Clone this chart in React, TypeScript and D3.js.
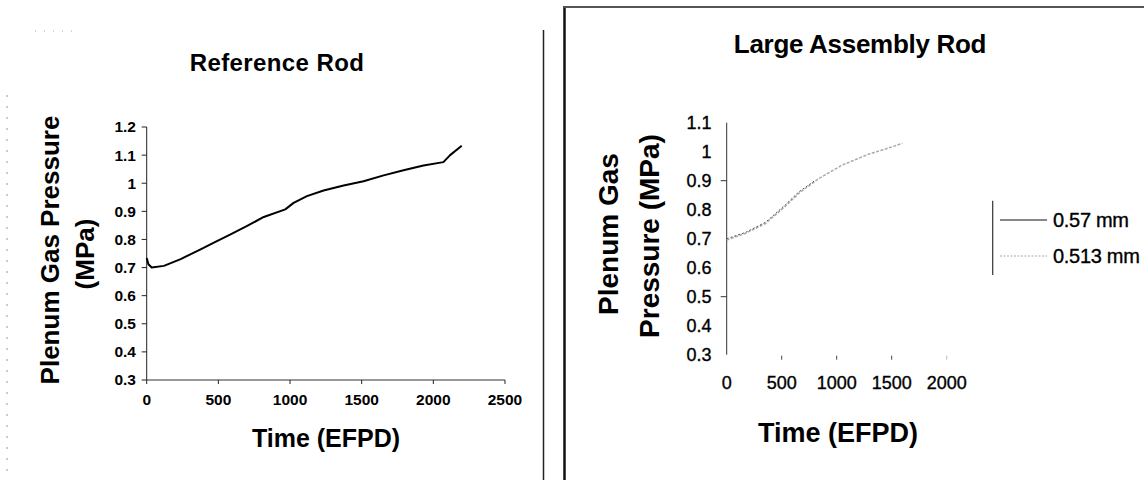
import * as d3 from 'd3';

// Reference Rod
const refTime = [0, 12, 35, 120, 237, 376, 469, 585, 701, 817, 967, 1025, 1118, 1234, 1374, 1513, 1653, 1792, 1931, 2070, 2117, 2198];
const refPressure = [0.734, 0.712, 0.7, 0.706, 0.73, 0.765, 0.789, 0.818, 0.848, 0.88, 0.907, 0.93, 0.954, 0.974, 0.992, 1.007, 1.028, 1.046, 1.063, 1.075, 1.1, 1.133];
const refYTicks = [0.3, 0.4, 0.5, 0.6, 0.7, 0.8, 0.9, 1, 1.1, 1.2];
const refXTicks = [0, 500, 1000, 1500, 2000, 2500];

// Large Assembly Rod
const time057 = [0, 173, 355, 536, 658, 800];
const pressure057 = [0.7, 0.722, 0.757, 0.818, 0.862, 0.9];
const time0513 = [0, 173, 355, 536, 658, 839, 1051, 1294, 1450, 1597];
const pressure0513 = [0.695, 0.719, 0.753, 0.813, 0.857, 0.908, 0.954, 0.992, 1.01, 1.029];
const largeYTicks = [0.3, 0.4, 0.5, 0.6, 0.7, 0.8, 0.9, 1, 1.1];
const largeYTickMarks = [0.9, 0.5];
const largeXTicks = [0, 500, 1000, 1500, 2000];
const legendLabels = ['0.57 mm', '0.513 mm'];

const font = '"Liberation Sans", Arial, sans-serif';

export default function App() {
  const xL = d3.scaleLinear().domain([0, 2500]).range([146.7, 505]);
  const yL = d3.scaleLinear().domain([0.3, 1.2]).range([380, 127]);
  const xR = d3.scaleLinear().domain([0, 2000]).range([726.7, 946.7]);
  const yR = d3.scaleLinear().domain([0.3, 1.1]).range([354.7, 122.7]);

  const refLine = d3
    .line<number>()
    .x((_, i) => xL(refTime[i]))
    .y((d) => yL(d));
  const line057 = d3
    .line<number>()
    .x((_, i) => xR(time057[i]))
    .y((d) => yR(d));
  const line0513 = d3
    .line<number>()
    .x((_, i) => xR(time0513[i]))
    .y((d) => yR(d));

  return (
    <svg
      width={1144}
      height={480}
      style={{ position: 'absolute', left: 0, top: 0, background: '#fff' }}
      fontFamily={font}
    >
      {/* scan artefacts on the left edge */}
      <line x1={7} x2={7} y1={95} y2={480} stroke="#999" strokeWidth={1} strokeDasharray="2 9" />
      <line x1={35} x2={78} y1={31} y2={31} stroke="#aaa" strokeWidth={1} strokeDasharray="1 8" />

      {/* divider and right box */}
      <line x1={543.5} x2={543.5} y1={30} y2={480} stroke="#222" strokeWidth={1.5} />
      <line x1={564.5} x2={564.5} y1={6} y2={480} stroke="#111" strokeWidth={2.5} />
      <line x1={564} x2={1144} y1={7} y2={7} stroke="#555" strokeWidth={2} />

      {/* ---- Reference Rod ---- */}
      <text x={277} y={71} textAnchor="middle" fontSize={24} fontWeight="bold" letterSpacing={0.4}>
        Reference Rod
      </text>
      <text
        transform={`translate(59,250) rotate(-90)`}
        textAnchor="middle"
        fontSize={26}
        fontWeight="bold"
      >
        Plenum Gas Pressure
      </text>
      <text
        transform={`translate(94,254) rotate(-90)`}
        textAnchor="middle"
        fontSize={26}
        fontWeight="bold"
      >
        (MPa)
      </text>
      <line x1={xL(0)} x2={xL(0)} y1={yL(1.2)} y2={yL(0.3)} stroke="#222" strokeWidth={1} />
      <line x1={xL(0)} x2={xL(2500)} y1={yL(0.3)} y2={yL(0.3)} stroke="#333" strokeWidth={1} />
      {refYTicks.map((v) => (
        <g key={`ly${v}`}>
          <line x1={xL(0) - 5} x2={xL(0)} y1={yL(v)} y2={yL(v)} stroke="#222" />
          <text x={136} y={yL(v)} dy="0.35em" textAnchor="end" fontSize={15.5} fontWeight="bold">
            {String(v)}
          </text>
        </g>
      ))}
      {refXTicks.map((t) => (
        <g key={`lx${t}`}>
          <line x1={xL(t)} x2={xL(t)} y1={yL(0.3)} y2={yL(0.3) + 4} stroke="#222" />
          <text x={xL(t)} y={400} dy="0.35em" textAnchor="middle" fontSize={15.5} fontWeight="bold">
            {String(t)}
          </text>
        </g>
      ))}
      <path d={refLine(refPressure) ?? ''} fill="none" stroke="#000" strokeWidth={2} strokeLinejoin="round" />
      <text x={326} y={447} textAnchor="middle" fontSize={25} fontWeight="bold">
        Time (EFPD)
      </text>

      {/* ---- Large Assembly Rod ---- */}
      <text x={860} y={53} textAnchor="middle" fontSize={26} fontWeight="bold" letterSpacing={-0.3}>
        Large Assembly Rod
      </text>
      <text
        transform={`translate(618,234) rotate(-90)`}
        textAnchor="middle"
        fontSize={28}
        fontWeight="bold"
      >
        Plenum Gas
      </text>
      <text
        transform={`translate(659,236) rotate(-90)`}
        textAnchor="middle"
        fontSize={28}
        fontWeight="bold"
      >
        Pressure (MPa)
      </text>
      <line x1={xR(0)} x2={xR(0)} y1={yR(1.1)} y2={yR(0.3)} stroke="#333" strokeWidth={1} />
      {largeYTickMarks.map((v) => (
        <line key={`rm${v}`} x1={xR(0) - 6} x2={xR(0)} y1={yR(v)} y2={yR(v)} stroke="#333" />
      ))}
      {largeYTicks.map((v) => (
        <text
          key={`ry${v}`}
          x={711.5}
          y={yR(v)}
          dy="0.35em"
          textAnchor="end"
          fontSize={18}
          stroke="#000"
          strokeWidth={0.35}
        >
          {String(v)}
        </text>
      ))}
      {largeXTicks.map((t) => (
        <g key={`rx${t}`}>
          {t > 0 && (
            <line
              x1={xR(t)}
              x2={xR(t)}
              y1={yR(0.3) + 1}
              y2={yR(0.3) + 5}
              stroke={t === 2000 ? '#bbb' : '#444'}
            />
          )}
          <text
            x={xR(t)}
            y={383}
            dy="0.35em"
            textAnchor="middle"
            fontSize={18}
            stroke="#000"
            strokeWidth={0.35}
          >
            {String(t)}
          </text>
        </g>
      ))}
      <path
        d={line0513(pressure0513) ?? ''}
        fill="none"
        stroke="#aaa"
        strokeWidth={1.5}
        strokeDasharray="3 1.5"
      />
      <path
        d={line057(pressure057) ?? ''}
        fill="none"
        stroke="#555"
        strokeWidth={1}
        strokeDasharray="2 2"
      />
      <text x={838} y={441.7} textAnchor="middle" fontSize={27} fontWeight="bold">
        Time (EFPD)
      </text>

      {/* legend */}
      <line x1={992.7} x2={992.7} y1={200.7} y2={275} stroke="#333" strokeWidth={1.2} />
      {legendLabels.map((label, i) => {
        const y = i === 0 ? 220 : 256;
        return (
          <g key={label}>
            <line
              x1={1000}
              x2={1047}
              y1={y}
              y2={y}
              stroke={i === 0 ? '#111' : '#aaa'}
              strokeWidth={i === 0 ? 1.2 : 1}
              strokeDasharray={i === 0 ? undefined : '2 1.5'}
            />
            <text
              x={1053}
              y={y}
              dy="0.35em"
              fontSize={20}
              letterSpacing={-0.3}
              stroke="#000"
              strokeWidth={0.35}
            >
              {label}
            </text>
          </g>
        );
      })}
    </svg>
  );
}
